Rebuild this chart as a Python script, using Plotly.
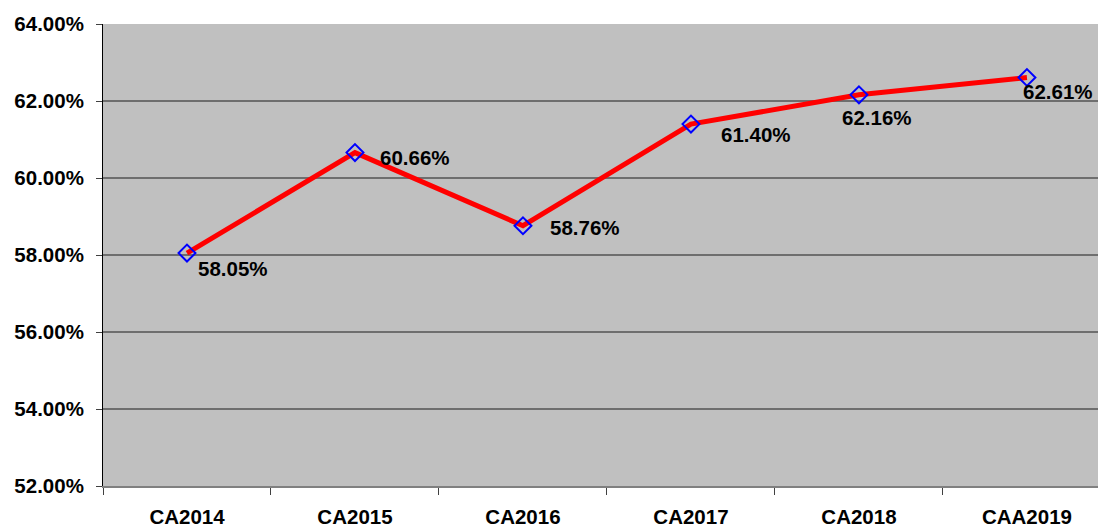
import plotly.graph_objects as go

categories = ["CA2014", "CA2015", "CA2016", "CA2017", "CA2018", "CAA2019"]
values = [58.05, 60.66, 58.76, 61.40, 62.16, 62.61]
y_ticks = [52, 54, 56, 58, 60, 62, 64]

# label offsets (pixels) from each point
label_dx = [46, 60, 62, 65, 18, 31]
label_dy = [15, 5, 2, 10, 23, 14]

FONT = "Liberation Sans, Arial, sans-serif"
FS = 20.5

fig = go.Figure()
fig.add_trace(go.Scatter(
    x=categories, y=values, mode="lines+markers",
    line=dict(color="#FF0000", width=5),
    marker=dict(symbol="diamond-open", size=13, color="#0000FF",
                line=dict(color="#0000FF", width=2)),
    hoverinfo="skip", showlegend=False, cliponaxis=False,
))

for c, v, dx, dy in zip(categories, values, label_dx, label_dy):
    fig.add_annotation(x=c, y=v, text=f"<b>{v:.2f}%</b>", showarrow=False,
                       xshift=dx, yshift=-dy, xanchor="center", yanchor="middle",
                       font=dict(family=FONT, size=FS, color="#000000"))

fig.update_layout(
    width=1098, height=527,
    margin=dict(l=103, r=0, t=24, b=41, autoexpand=False),
    paper_bgcolor="#FFFFFF", plot_bgcolor="#C0C0C0",
    font=dict(family=FONT, size=FS, color="#000000"),
)
fig.update_xaxes(
    type="category", range=[-0.5, 5.423], tickson="boundaries",
    ticks="outside", ticklen=7, tickcolor="#404040", tickwidth=1,
    showline=True, linecolor="#808080", linewidth=2,
    showgrid=False, zeroline=False, automargin=False,
    tickfont=dict(family=FONT, size=FS, color="#000000"),
    ticklabelstandoff=11,
    tickvals=categories, ticktext=[f"<b>{c}</b>" for c in categories],
)
fig.update_yaxes(
    range=[52, 64], tickvals=y_ticks,
    ticktext=[f"<b>{t:.2f}%</b>" for t in y_ticks],
    ticks="outside", ticklen=6, tickcolor="#404040", tickwidth=1,
    showline=True, linecolor="#000000", linewidth=1,
    showgrid=True, gridcolor="#6E6E6E", gridwidth=2,
    zeroline=False, ticklabelstandoff=8, automargin=False,
    tickfont=dict(family=FONT, size=FS, color="#000000"),
)

fig.write_html(
    "out.html",
    config={"displayModeBar": False, "staticPlot": True},
    post_script="document.body.style.margin='0';document.body.style.overflow='hidden';",
)
